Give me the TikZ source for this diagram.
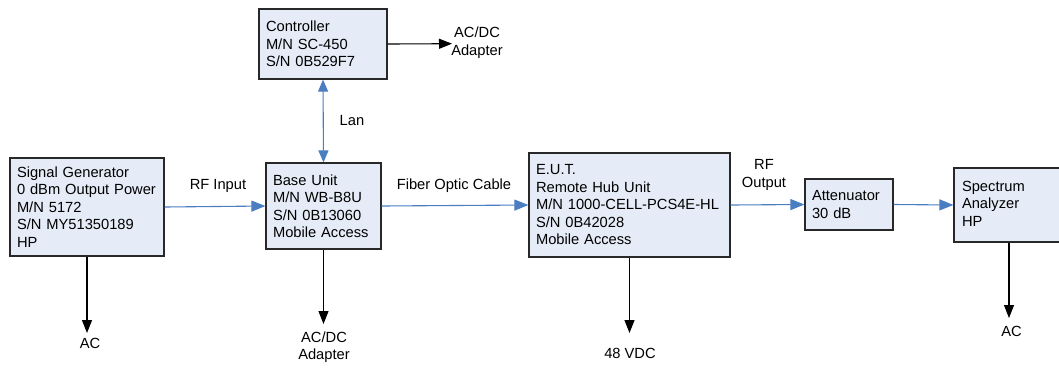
\documentclass[tikz,border=0pt]{standalone}
\usepackage{fontspec}
\setmainfont{Liberation Sans}
\usetikzlibrary{arrows.meta}
\definecolor{boxfill}{RGB}{230,236,247}
\definecolor{boxline}{RGB}{40,40,40}
\definecolor{linkblue}{RGB}{74,126,193}
\tikzset{
  unit/.style={draw=boxline, line width=1.2pt, fill=boxfill, inner xsep=7pt, inner ysep=0pt,
    align=left, font=\fontsize{14.7}{17.5}\selectfont},
  lbl/.style={inner sep=0pt, align=center, font=\fontsize{14.7}{17.5}\selectfont},
  blk/.style={draw=black, line width=1.1pt, -{Triangle[length=13pt,width=10pt]}},
  blu/.style={draw=linkblue, line width=1.1pt, -{Triangle[length=14pt,width=11pt]}},
  blu2/.style={draw=linkblue, line width=1.1pt, {Triangle[length=12pt,width=10pt]}-{Triangle[length=12pt,width=10pt]}},
}
\begin{document}
\begin{tikzpicture}[x=1pt,y=-1pt]
\useasboundingbox (0,0) rectangle (1059,368);
\clip (0,0) rectangle (1059,368);
% units
\node[unit, minimum width=154pt, minimum height=98pt, text width=140pt] (sg) at (87,207)
  {Signal Generator\\0 dBm Output Power\\M/N 5172\\S/N MY51350189\\HP};
\node[unit, minimum width=128pt, minimum height=70pt, text width=114pt] (ctrl) at (323,44)
  {Controller\\M/N SC-450\\S/N 0B529F7};
\node[unit, minimum width=115pt, minimum height=86pt, text width=101pt] (bu) at (323.5,206)
  {Base Unit\\M/N WB-B8U\\S/N 0B13060\\Mobile Access};
\node[unit, minimum width=201pt, minimum height=104pt, text width=187pt] (eut) at (629.5,205)
  {E.U.T.\\Remote Hub Unit\\M/N 1000-CELL-PCS4E-HL\\S/N 0B42028\\Mobile Access};
\node[unit, minimum width=88pt, minimum height=51pt, text width=74pt] (att) at (849,204.5)
  {Attenuator\\30 dB};
\node[unit, minimum width=110pt, minimum height=74pt, text width=94pt, inner xsep=8pt] (sa) at (1009,205)
  {\raisebox{3pt}{\parbox[b]{94pt}{Spectrum\\Analyzer\\HP}}};
% labels
\node[lbl] (rfin) at (218,186) {RF Input};
\node[lbl] (fiber) at (454,186) {Fiber Optic Cable};
\node[lbl] (rfout) at (764,175) {RF\\Output};
\node[lbl] (lan) at (352,121) {Lan};
\node[lbl] (sgac) at (90,343) {AC};
\node[lbl] (buac) at (324,347) {AC/DC\\Adapter};
\node[lbl] (eutdc) at (630,353) {48 VDC};
\node[lbl] (saac) at (1011.5,331) {AC};
\node[lbl] (ctrlac) at (477,42.5) {AC/DC\\Adapter};
% tip coordinates
\coordinate (sgT) at (87,333);
\coordinate (buT) at (323.5,324);
\coordinate (eutT) at (629.5,333);
\coordinate (saT) at (1009,318);
\coordinate (ctrlT) at (452,43.7);
% connectors
\draw[blu] (sg.east) -- (bu.west);
\draw[blu] (bu.east) -- (eut.west);
\draw[blu] (eut.east) -- (att.west);
\draw[blu] (att.east) -- (sa.west);
\draw[blu2] (ctrl.south) -- (bu.north);
\draw[blk] (sg.south) -- (sgT);
\draw[blk] (bu.south) -- (buT);
\draw[blk] (eut.south) -- (eutT);
\draw[blk] (sa.south) -- (saT);
\draw[blk] (ctrl.east) -- (ctrlT);
\end{tikzpicture}
\end{document}
